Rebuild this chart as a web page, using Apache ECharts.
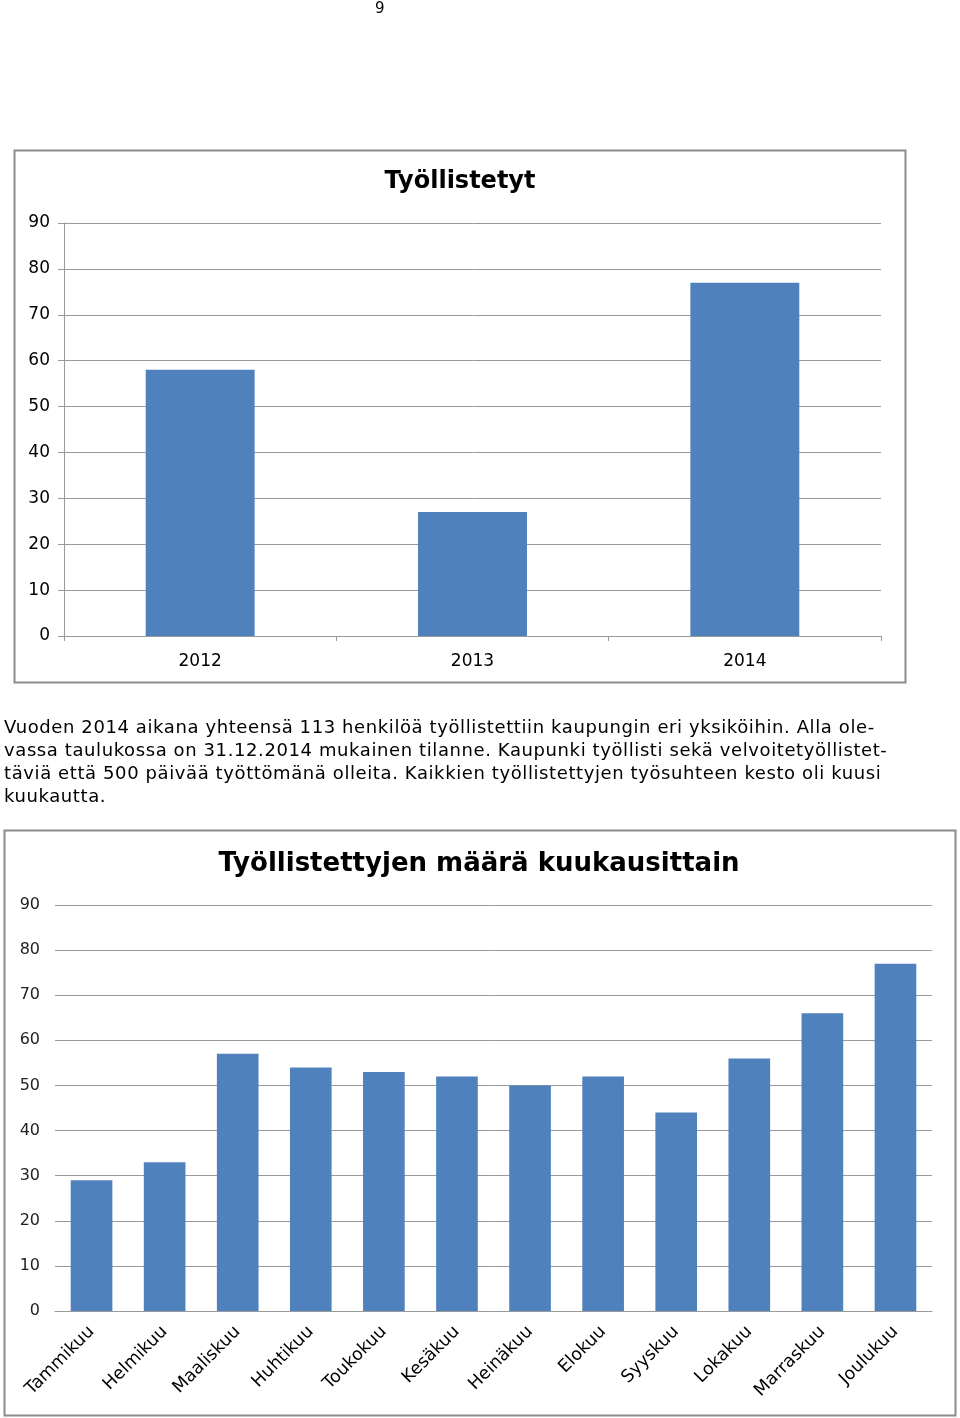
<!DOCTYPE html>
<html>
<head>
<meta charset="utf-8">
<script src="https://cdn.jsdelivr.net/npm/echarts@6/dist/echarts.min.js"></script>
<style>
  html, body { margin: 0; padding: 0; background: #fff; }
  #page { position: relative; width: 960px; height: 1418px; }
  #chart { position: absolute; left: 0; top: 0; width: 960px; height: 1418px; }
  .txt { position: absolute; font-family: "DejaVu Sans", Verdana, sans-serif; color: #000; white-space: nowrap; }
  #para { left: 4px; top: 715px; font-size: 18px; letter-spacing: 0.6px; line-height: 23px; }
  #pnum { left: 375px; top: -1px; font-size: 15px; }
</style>
</head>
<body>
<div id="page">
  <div id="chart"></div>
  <div class="txt" id="pnum">9</div>
  <div class="txt" id="para">Vuoden 2014 aikana yhteensä 113 henkilöä työllistettiin kaupungin eri yksiköihin. Alla ole-<br>vassa taulukossa on 31.12.2014 mukainen tilanne. Kaupunki työllisti sekä velvoitetyöllistet-<br>täviä että 500 päivää työttömänä olleita. Kaikkien työllistettyjen työsuhteen kesto oli kuusi<br>kuukautta.</div>
</div>
<script>
const years = ['2012', '2013', '2014'];
const yearValues = [58, 27, 77];
const months = ['Tammikuu', 'Helmikuu', 'Maaliskuu', 'Huhtikuu', 'Toukokuu', 'Kesäkuu', 'Heinäkuu', 'Elokuu', 'Syyskuu', 'Lokakuu', 'Marraskuu', 'Joulukuu'];
const monthValues = [29, 33, 57, 54, 53, 52, 50, 52, 44, 56, 66, 77];
const title1 = 'Työllistetyt';
const title2 = 'Työllistettyjen määrä kuukausittain';

const FONT = '"DejaVu Sans", Verdana, sans-serif';
const BAR = '#4f81bd';
const GRIDC = '#9a9a9a';

const chart = echarts.init(document.getElementById('chart'), null, { renderer: 'canvas' });
chart.setOption({
  animation: false,
  backgroundColor: '#fff',
  textStyle: { fontFamily: FONT },
  graphic: [
    { type: 'rect', shape: { x: 14.5, y: 150.5, width: 891, height: 532 }, style: { fill: 'none', stroke: '#8c8c8c', lineWidth: 2 }, z: 0 },
    { type: 'rect', shape: { x: 4.5, y: 830.5, width: 951, height: 585 }, style: { fill: 'none', stroke: '#8c8c8c', lineWidth: 2 }, z: 0 },
    { type: 'text', x: 460, y: 182, style: { text: title1, font: 'bold 24px ' + FONT, fill: '#000', textAlign: 'center', textVerticalAlign: 'middle' } },
    { type: 'text', x: 479, y: 864, style: { text: title2, font: 'bold 26px ' + FONT, fill: '#000', textAlign: 'center', textVerticalAlign: 'middle' } }
  ],
  grid: [
    { left: 64, top: 223, width: 817, height: 413, containLabel: false },
    { left: 55, top: 905, width: 877, height: 406, containLabel: false }
  ],
  xAxis: [
    {
      gridIndex: 0, type: 'category', data: years,
      axisLine: { show: true, lineStyle: { color: GRIDC, width: 1 } },
      axisTick: { show: true, alignWithLabel: false, length: 5, lineStyle: { color: GRIDC } },
      axisLabel: { color: '#000', fontSize: 17, fontFamily: FONT, margin: 17 }
    },
    {
      gridIndex: 1, type: 'category', data: months,
      axisLine: { show: true, lineStyle: { color: GRIDC, width: 1 } },
      axisTick: { show: false },
      axisLabel: { color: '#000', fontSize: 17.5, fontFamily: FONT, rotate: 45, margin: 18, interval: 0 }
    }
  ],
  yAxis: [
    {
      gridIndex: 0, type: 'value', min: 0, max: 90, interval: 10,
      axisLine: { show: true, lineStyle: { color: GRIDC, width: 1 } },
      axisTick: { show: true, length: 6, lineStyle: { color: GRIDC } },
      splitLine: { show: true, lineStyle: { color: GRIDC, width: 1 } },
      axisLabel: { color: '#000', fontSize: 17, fontFamily: FONT, margin: 14 }
    },
    {
      gridIndex: 1, type: 'value', min: 0, max: 90, interval: 10,
      axisLine: { show: false },
      axisTick: { show: false },
      splitLine: { show: true, lineStyle: { color: GRIDC, width: 1 } },
      axisLabel: { color: '#222', fontSize: 16, fontFamily: FONT, margin: 15 }
    }
  ],
  series: [
    { type: 'bar', xAxisIndex: 0, yAxisIndex: 0, data: yearValues, barCategoryGap: '60%', itemStyle: { color: BAR } },
    { type: 'bar', xAxisIndex: 1, yAxisIndex: 1, data: monthValues, barCategoryGap: '43%', itemStyle: { color: BAR } }
  ]
});
</script>
</body>
</html>
